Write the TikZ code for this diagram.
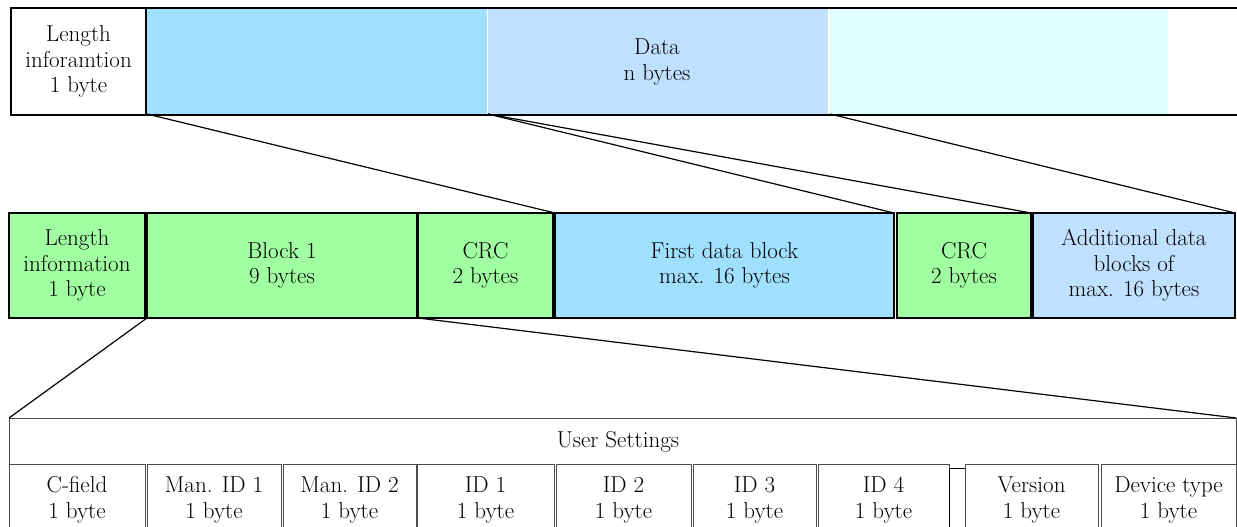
\documentclass[tikz,border=0pt]{standalone}
\definecolor{cA}{HTML}{A0E0FF}
\definecolor{cB}{HTML}{C0E0FF}
\definecolor{cC}{HTML}{E0FFFF}
\definecolor{cG}{HTML}{A0FFA0}
\begin{document}
\begin{tikzpicture}[x=1pt,y=-1pt, font=\fontsize{23}{25.5}\selectfont,
  box/.style={draw, line width=2pt, rectangle, inner sep=0pt, outer sep=0pt, align=center},
  seg/.style={rectangle, inner sep=0pt, outer sep=0pt, minimum height=105pt},
  txt/.style={inner sep=0pt, align=center},
  cell/.style={draw=black!70, line width=1pt, rectangle, inner sep=0pt, outer sep=0pt, align=center, minimum height=72pt},
  link/.style={line width=1.2pt}]
\useasboundingbox (0,0) rectangle (1237,527);
\clip (0,0) rectangle (1237,527);
% top row
\node[seg, fill=cA, minimum width=340pt] (segA) at (317,61.5) {};
\node[seg, fill=cB, minimum width=340pt] (segB) at (658,61.5) {};
\node[seg, fill=cC, minimum width=338pt] (segC) at (999,61.5) {};
\node[box, fill=white, minimum width=135pt, minimum height=107pt] (len1) at (78.5,61.5) {Length\\inforamtion\\1 byte};
\coordinate (bandTR) at (1240,8);
\coordinate (bandBR) at (1240,115);
\draw[line width=2pt] (len1.north east) -- (bandTR);
\draw[line width=2pt] (len1.south east) -- (bandBR);
\node[txt] (data) at (657,62) {Data\\n bytes};
% middle row
\node[box, fill=cG, minimum width=136pt, minimum height=105pt] (len2) at (77,265.5) {Length\\information\\1 byte};
\node[box, fill=cG, minimum width=270pt, minimum height=105pt] (blk1) at (282,265.5) {Block 1\\9 bytes};
\node[box, fill=cG, minimum width=135pt, minimum height=105pt] (crc1) at (485.5,265.5) {CRC\\2 bytes};
\node[box, fill=cA, minimum width=339pt, minimum height=105pt] (fdb) at (724.5,265.5) {First data block\\max. 16 bytes};
\node[box, fill=cG, minimum width=134pt, minimum height=105pt] (crc2) at (964,265.5) {CRC\\2 bytes};
\node[box, fill=cB, minimum width=202pt, minimum height=105pt] (add) at (1134,265.5) {Additional data\\blocks of\\max. 16 bytes};
% connectors top -> middle
\draw[link] (segA.south west) -- (fdb.north west);
\draw[link] (segB.south west) -- (fdb.north east);
\draw[link] (segB.south west) -- (crc2.north east);
\draw[link] (segC.south west) -- (add.north east);
% bottom
\node[draw=black!70, line width=1pt, rectangle, inner sep=0pt, outer sep=0pt, minimum width=1227pt, minimum height=118pt] (us) at (622.5,477) {};
\node[txt] (ushdr) at (618,442) {User Settings};
\draw[link] (blk1.south west) -- (us.north west);
\draw[link] (crc1.south west) -- (us.north east);
\node[cell, minimum width=136pt] (cf) at (77,500) {C-field\\1 byte};
\node[cell, minimum width=134pt] (m1) at (214,500) {Man. ID 1\\1 byte};
\node[cell, minimum width=133pt] (m2) at (349.5,500) {Man. ID 2\\1 byte};
\node[cell, minimum width=137pt] (i1) at (485.5,500) {ID 1\\1 byte};
\node[cell, minimum width=135pt] (i2) at (623.5,500) {ID 2\\1 byte};
\node[cell, minimum width=123pt] (i3) at (754.5,500) {ID 3\\1 byte};
\node[cell, minimum width=131pt] (i4) at (883.5,500) {ID 4\\1 byte};
\node[draw=black, line width=1pt, rectangle, inner sep=0pt, outer sep=0pt, minimum width=16pt, minimum height=68pt] (sm) at (957,502) {};
\node[cell, minimum width=133pt] (ver) at (1031.5,500) {Version\\1 byte};
\node[cell, minimum width=135pt] (dev) at (1168.5,500) {Device type\\1 byte};
\end{tikzpicture}
\end{document}
